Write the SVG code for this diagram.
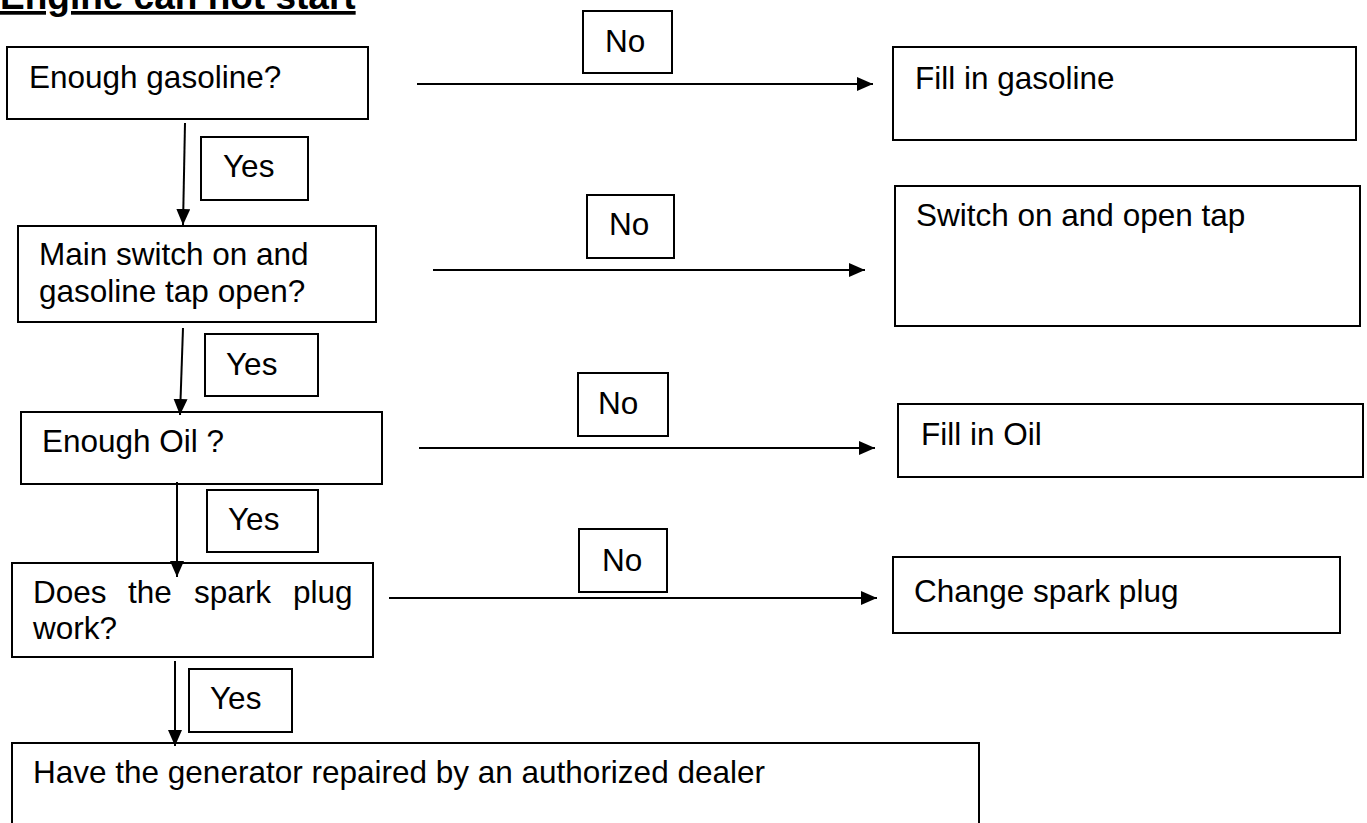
<svg xmlns="http://www.w3.org/2000/svg" width="1367" height="823" viewBox="0 0 1367 823">
<style>
rect{fill:#fff;stroke:#000;stroke-width:2}
text{font-family:"Liberation Sans",Arial,sans-serif;font-size:31.5px;fill:#000}
.title{font-weight:bold;font-size:37px;text-decoration:underline}
.conn line{stroke:#000;stroke-width:2}
</style>
<defs>
<marker id="ah" markerUnits="userSpaceOnUse" markerWidth="17" markerHeight="15" refX="16" refY="7" orient="auto">
<path d="M0,0 L16,7 L0,14 z" fill="#000"/>
</marker>
</defs>
<rect x="0" y="0" width="1367" height="823" style="stroke:none"/>
<text class="title" x="0" y="9">Engine can not start</text>
<g id="q1"><rect x="7" y="47" width="361" height="72"/><text x="29" y="88">Enough gasoline?</text></g>
<g id="a1"><rect x="893" y="47" width="463" height="93"/><text x="915" y="89">Fill in gasoline</text></g>
<g id="no1"><rect x="583" y="11" width="89" height="62"/><text x="605" y="52">No</text></g>
<g id="yes1"><rect x="201" y="137" width="107" height="63"/><text x="223" y="177">Yes</text></g>
<g id="q2"><rect x="18" y="226" width="358" height="96"/><text x="39" y="265">Main switch on and</text><text x="39" y="302">gasoline tap open?</text></g>
<g id="a2"><rect x="895" y="186" width="465" height="140"/><text x="916" y="226">Switch on and open tap</text></g>
<g id="no2"><rect x="587" y="195" width="87" height="63"/><text x="609" y="235">No</text></g>
<g id="yes2"><rect x="205" y="334" width="113" height="62"/><text x="226" y="375">Yes</text></g>
<g id="q3"><rect x="21" y="412" width="361" height="72"/><text x="42" y="452">Enough Oil ?</text></g>
<g id="a3"><rect x="898" y="404" width="465" height="73"/><text x="921" y="445">Fill in Oil</text></g>
<g id="no3"><rect x="578" y="373" width="90" height="63"/><text x="598" y="414">No</text></g>
<g id="yes3"><rect x="207" y="490" width="111" height="62"/><text x="228" y="530">Yes</text></g>
<g id="q4"><rect x="12" y="563" width="361" height="94"/><text y="603"><tspan x="33">Does</tspan><tspan x="128">the</tspan><tspan x="194">spark</tspan><tspan x="293">plug</tspan></text><text x="33" y="639">work?</text></g>
<g id="a4"><rect x="893" y="557" width="447" height="76"/><text x="914" y="602">Change spark plug</text></g>
<g id="no4"><rect x="579" y="529" width="88" height="63"/><text x="602" y="571">No</text></g>
<g id="yes4"><rect x="189" y="669" width="103" height="63"/><text x="210" y="709">Yes</text></g>
<g id="end"><rect x="12" y="743" width="967" height="100"/><text x="33" y="783">Have the generator repaired by an authorized dealer</text></g>
<g class="conn">
<line x1="417" y1="84" x2="873" y2="84" marker-end="url(#ah)"/>
<line x1="433" y1="270" x2="865" y2="270" marker-end="url(#ah)"/>
<line x1="419" y1="448" x2="875" y2="448" marker-end="url(#ah)"/>
<line x1="389" y1="598" x2="877" y2="598" marker-end="url(#ah)"/>
<line x1="185" y1="123" x2="183" y2="225" marker-end="url(#ah)"/>
<line x1="183" y1="328" x2="180" y2="415" marker-end="url(#ah)"/>
<line x1="177" y1="482" x2="177" y2="577" marker-end="url(#ah)"/>
<line x1="175" y1="661" x2="175" y2="746" marker-end="url(#ah)"/>
</g>
</svg>
